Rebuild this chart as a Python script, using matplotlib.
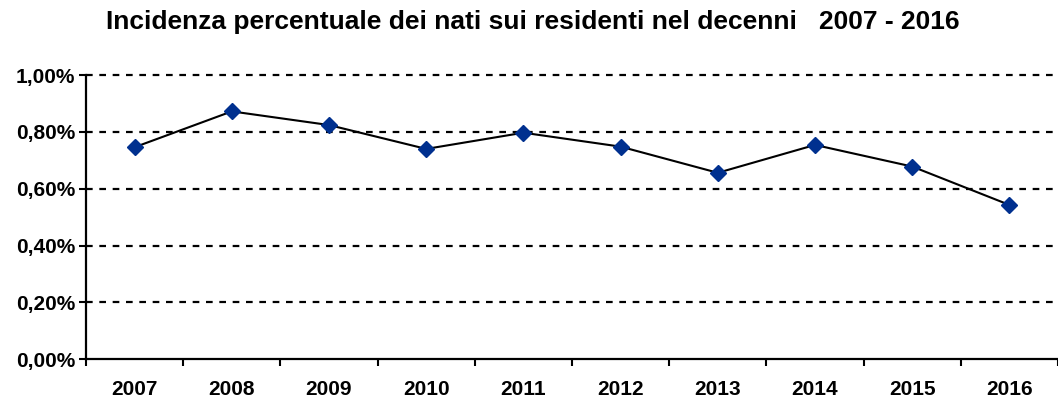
import matplotlib
matplotlib.use("Agg")
import matplotlib.pyplot as plt
import numpy as np

years = ["2007", "2008", "2009", "2010", "2011", "2012", "2013", "2014", "2015", "2016"]
values = [0.746, 0.872, 0.824, 0.740, 0.797, 0.748, 0.656, 0.754, 0.678, 0.543]
yticks = [0.0, 0.2, 0.4, 0.6, 0.8, 1.0]
ytick_labels = ["0,00%", "0,20%", "0,40%", "0,60%", "0,80%", "1,00%"]
title = "Incidenza percentuale dei nati sui residenti nel decenni   2007 - 2016"

plt.rcParams['font.family'] = ['Liberation Sans', 'DejaVu Sans']

W, H = 1058, 401
fig = plt.figure(figsize=(W / 100, H / 100), dpi=100)
left = 86 / W
bottom = 1 - 359.3 / H
top = 1 - 75 / H
ax = fig.add_axes([left, bottom, 1.0 - left, top - bottom])

x = np.arange(len(years))
ax.set_xlim(-0.5, len(years) - 0.5)
ax.set_ylim(0, 1.0)

for yv in yticks[1:]:
    ax.axhline(yv, color="black", lw=1.6, ls=(0, (3.0, 3.0)), zorder=1, clip_on=False)

ax.plot(x, values, color="black", lw=1.5, zorder=2)
ax.plot(x, values, ls="none", marker="D", markersize=8.0, color="#00308F",
        markeredgecolor="#00308F", zorder=3)

ax.set_yticks(yticks)
ax.set_yticklabels(ytick_labels, fontsize=15, fontweight="bold")
ax.set_xticks(x)
ax.set_xticklabels(years, fontsize=15, fontweight="bold")
ax.tick_params(axis="x", which="major", length=0, pad=15)
ax.set_xticks(np.arange(-0.5, len(years) + 0.5, 1.0), minor=True)
ax.tick_params(axis="x", which="minor", length=5, width=1.5, direction="out")
ax.tick_params(axis="y", which="major", length=5, width=1.5, direction="out", pad=3)

for s in ["top", "right"]:
    ax.spines[s].set_visible(False)
for s in ["left", "bottom"]:
    ax.spines[s].set_linewidth(1.6)
    ax.spines[s].set_zorder(4)

fig.text(533 / W, 1 - 22 / H, title, ha="center", va="center",
         fontsize=19, fontweight="bold")

fig.savefig("out.png", dpi=100)
